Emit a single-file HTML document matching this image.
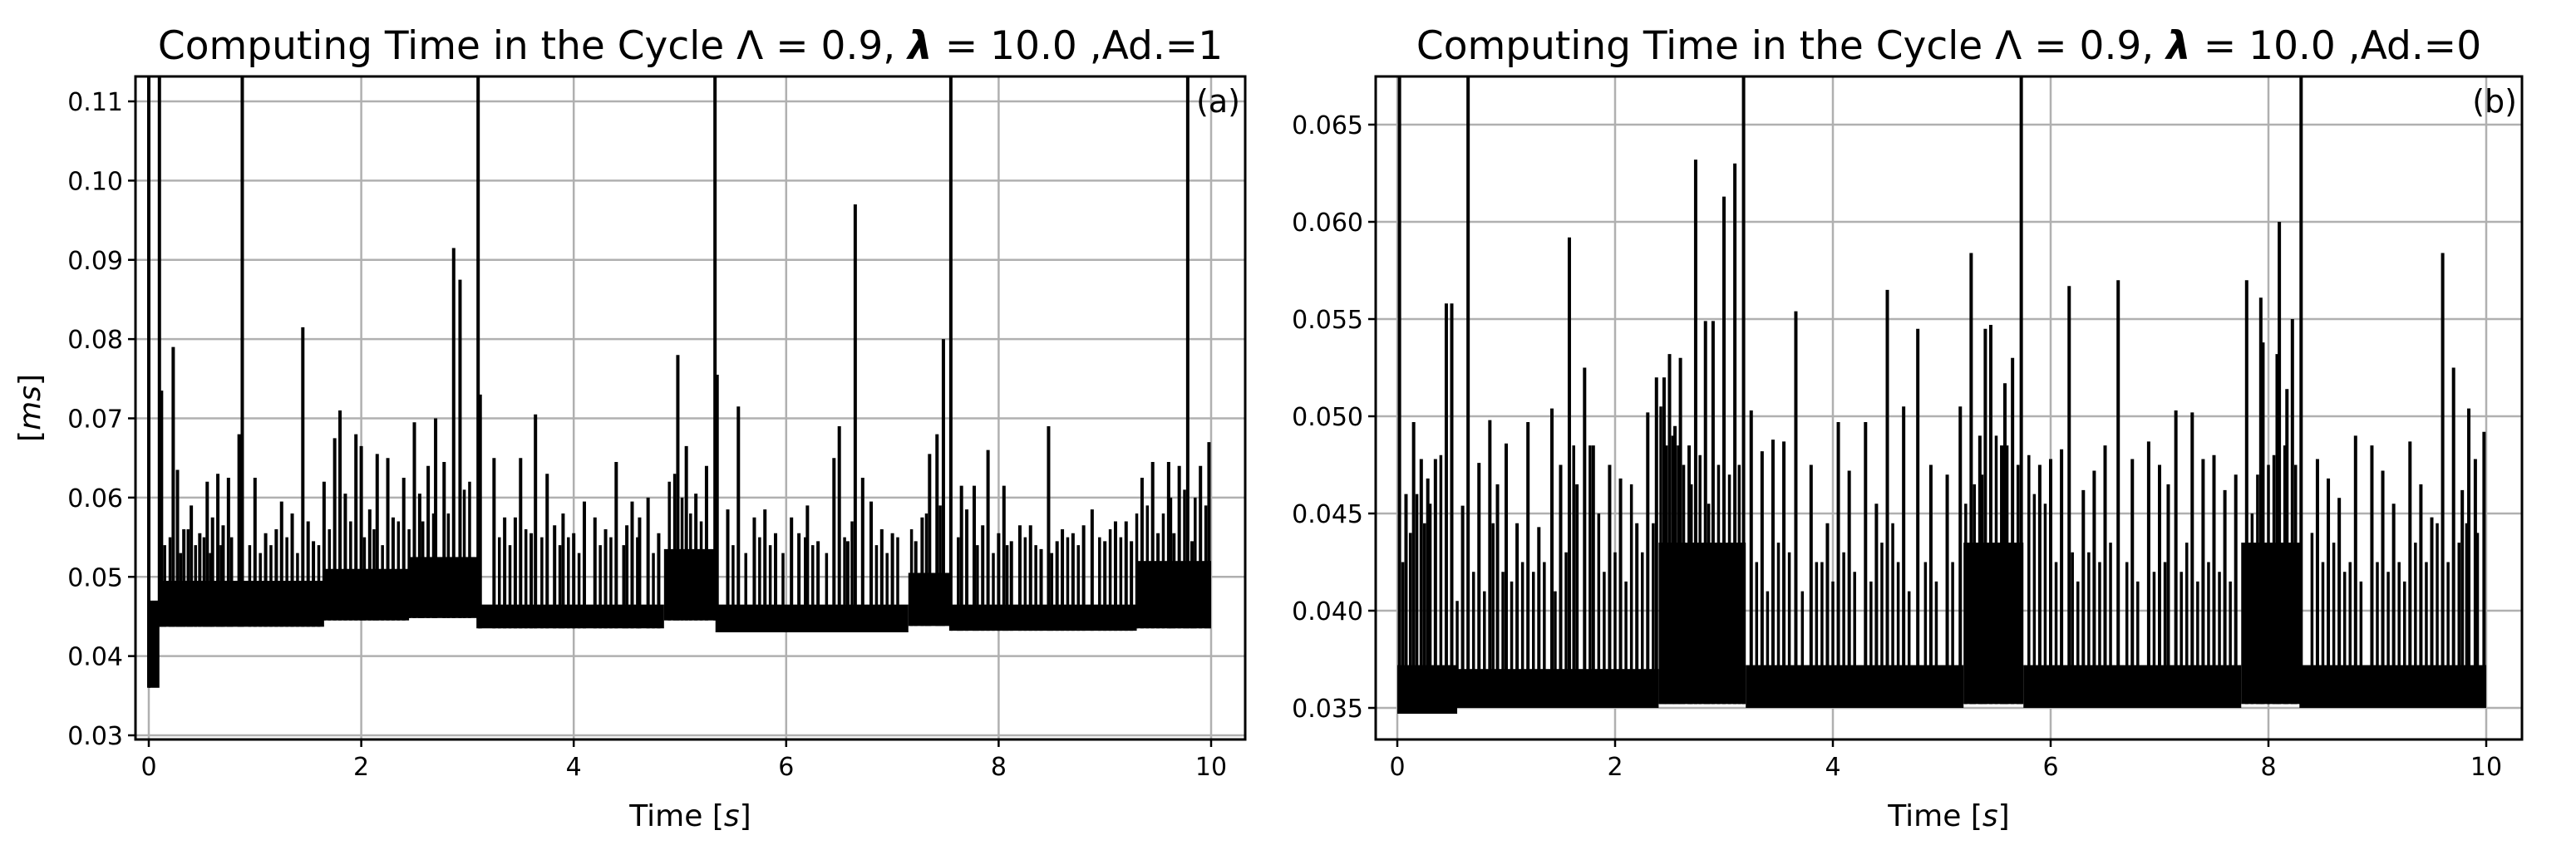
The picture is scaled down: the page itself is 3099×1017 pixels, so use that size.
<!DOCTYPE html>
<html><head><meta charset="utf-8"><style>
html,body{margin:0;padding:0;background:#fff;width:3099px;height:1017px;overflow:hidden}
svg{display:block}
text{font-family:"DejaVu Sans","Liberation Sans",sans-serif;fill:#000}
</style></head><body>
<svg id="chart" width="3099" height="1017" viewBox="0 0 3099 1017" xmlns="http://www.w3.org/2000/svg"></svg>
<script>
// ---------- Panel (a) data ----------
const aBandStart = [0, 0.1, 1.65, 2.45, 3.1, 4.85, 5.35, 7.15, 7.55, 9.3];
const aBandEnd   = [0.1, 1.65, 2.45, 3.1, 4.85, 5.35, 7.15, 7.55, 9.3, 10];
const aBandLow   = [0.036, 0.0437, 0.0445, 0.0448, 0.0435, 0.0445, 0.043, 0.0438, 0.0432, 0.0435];
const aBandHigh  = [0.047, 0.0495, 0.051, 0.0525, 0.0465, 0.0535, 0.0465, 0.0505, 0.0465, 0.052];
const aSpikeT = [0.0,0.1,0.88,3.1,5.33,7.55,9.78,0.23,1.45,2.87,2.93,6.65,4.98,7.48,3.12,5.35,0.12,5.55,2.7,3.64,1.8,6.5,8.47,2.5,9.98,0.85,1.75,0.27,0.55,0.65,0.75,1.0,1.25,1.65,1.95,2.0,2.15,2.25,2.4,2.63,3.25,3.5,3.75,4.4,5.06,5.25,6.45,6.72,7.35,7.42,7.65,7.77,7.9,8.05,8.88,9.35,9.45,9.6,9.7,9.9,4.7,4.55,6.2,6.9,8.2,0.4,1.5,3.9,4.1,5.8,6.05,8.6,9.1,9.2,0.33,0.48,0.6,0.7,1.1,1.2,1.35,1.55,1.85,2.08,2.3,2.55,2.78,3.35,3.45,3.6,3.82,4.0,4.2,4.3,4.5,4.62,4.8,5.15,5.45,5.7,5.9,6.12,6.3,6.58,6.8,7.0,7.22,7.28,7.7,7.85,8.0,8.12,8.3,8.4,8.55,8.7,8.8,9.0,9.25,9.5,9.65,9.82];
const aSpikeV = [0.2,0.2,0.2,0.2,0.2,0.2,0.2,0.079,0.0815,0.0915,0.0875,0.097,0.078,0.080,0.073,0.0755,0.0735,0.0715,0.070,0.0705,0.071,0.069,0.069,0.0695,0.067,0.068,0.0675,0.0635,0.062,0.063,0.0625,0.0625,0.0595,0.062,0.068,0.0665,0.0655,0.065,0.0625,0.064,0.065,0.065,0.063,0.0645,0.0665,0.064,0.065,0.0625,0.0655,0.068,0.0615,0.0615,0.066,0.0615,0.0585,0.0625,0.0645,0.0645,0.064,0.064,0.060,0.0595,0.059,0.056,0.0565,0.059,0.057,0.058,0.0595,0.0585,0.0575,0.056,0.057,0.057,0.056,0.0555,0.0575,0.0565,0.0555,0.056,0.058,0.0545,0.0605,0.0585,0.0575,0.0605,0.0645,0.0575,0.0575,0.0555,0.0565,0.0555,0.0575,0.056,0.0565,0.0575,0.0555,0.0605,0.0585,0.0575,0.0555,0.0555,0.0545,0.0545,0.0595,0.0555,0.0545,0.0575,0.0585,0.0565,0.0555,0.0545,0.0565,0.0535,0.0545,0.0555,0.0565,0.0545,0.0545,0.0555,0.0555,0.0545,0.0575];
const aMinorT = [0.15,0.2,0.3,0.37,0.44,0.52,0.58,0.68,0.78,0.95,1.05,1.15,1.3,1.4,1.6,1.7,1.9,2.03,2.12,2.2,2.35,2.45,2.58,2.68,2.82,2.97,3.02,3.3,3.4,3.55,3.7,3.87,3.95,4.05,4.25,4.35,4.47,4.6,4.75,4.9,4.95,5.02,5.1,5.2,5.5,5.62,5.75,5.85,5.97,6.18,6.25,6.38,6.55,6.62,6.85,6.95,7.05,7.18,7.32,7.45,7.62,7.8,7.95,8.08,8.25,8.35,8.5,8.65,8.75,8.95,9.05,9.15,9.3,9.4,9.55,9.62,9.75,9.85,9.95];
const aMinorV = [0.054,0.055,0.053,0.056,0.054,0.055,0.053,0.054,0.055,0.054,0.053,0.054,0.055,0.053,0.054,0.056,0.057,0.055,0.056,0.054,0.057,0.056,0.057,0.058,0.058,0.061,0.062,0.055,0.054,0.056,0.055,0.054,0.055,0.053,0.054,0.055,0.054,0.055,0.053,0.062,0.063,0.060,0.058,0.057,0.054,0.053,0.055,0.054,0.053,0.055,0.054,0.053,0.055,0.057,0.054,0.053,0.055,0.056,0.058,0.059,0.055,0.054,0.053,0.054,0.055,0.054,0.053,0.055,0.054,0.055,0.056,0.055,0.058,0.059,0.058,0.060,0.061,0.060,0.059];
const aYTicks = [0.03,0.04,0.05,0.06,0.07,0.08,0.09,0.10,0.11];
const aYLabels = ["0.03","0.04","0.05","0.06","0.07","0.08","0.09","0.10","0.11"];
// ---------- Panel (b) data ----------
const bBandStart = [0, 0.55, 2.4, 3.2, 5.2, 5.75, 7.75, 8.3];
const bBandEnd   = [0.55, 2.4, 3.2, 5.2, 5.75, 7.75, 8.3, 10];
const bBandLow   = [0.0347, 0.035, 0.0352, 0.035, 0.0352, 0.035, 0.0352, 0.035];
const bBandHigh  = [0.0372, 0.037, 0.0435, 0.0372, 0.0435, 0.0372, 0.0435, 0.0372];
const bSpikeT = [0.02,0.65,3.18,5.73,8.3,0.45,0.5,0.15,1.58,1.72,2.74,2.83,2.9,3.0,3.1,3.66,4.5,4.78,5.27,5.4,5.45,6.17,6.62,7.8,7.93,8.1,8.22,8.17,9.6,9.7,9.84,9.98,2.5,2.6,2.38,2.45,3.25,0.85,1.2,1.42,1.8,2.3,4.3,5.17,5.58,5.65,6.1,7.15,7.3,7.5,8.8,9.3,7.95,8.08,4.05,4.65,3.55,6.5,6.9,0.35,0.28,1.0,0.3,0.6,0.08,0.22,0.75,0.92,1.1,1.3,1.5,1.65,1.95,2.05,2.2,2.55,2.68,3.35,3.45,3.8,3.95,4.15,4.4,4.9,5.05,5.35,5.55,5.9,6.0,6.3,6.4,6.75,7.0,7.08,7.4,7.6,7.7,8.45,8.55,8.65,8.95,9.05,9.15,9.4,9.5,9.78,9.9];
const bSpikeV = [0.1,0.1,0.1,0.1,0.1,0.0558,0.0558,0.0497,0.0592,0.0525,0.0632,0.0549,0.0549,0.0613,0.0630,0.0554,0.0565,0.0545,0.0584,0.0545,0.0547,0.0567,0.0570,0.0570,0.0561,0.0600,0.0550,0.0514,0.0584,0.0525,0.0504,0.0492,0.0532,0.053,0.0520,0.0520,0.0503,0.0498,0.0497,0.0504,0.0485,0.0502,0.0497,0.0505,0.0517,0.053,0.0483,0.0503,0.0502,0.048,0.0490,0.0487,0.0538,0.0532,0.0497,0.0505,0.0487,0.0485,0.0487,0.0478,0.0468,0.0486,0.0455,0.0454,0.046,0.0478,0.0476,0.0465,0.0445,0.0443,0.0475,0.0465,0.0475,0.0468,0.0445,0.0495,0.0485,0.0482,0.0488,0.0475,0.0445,0.0472,0.0455,0.0475,0.047,0.049,0.0485,0.0475,0.0478,0.0462,0.0472,0.0478,0.0475,0.0465,0.0478,0.0462,0.047,0.0478,0.0468,0.0458,0.0485,0.0472,0.0455,0.0465,0.0448,0.0462,0.0478,0.0472];
const bMinorT = [0.05,0.12,0.18,0.25,0.4,0.55,0.7,0.8,0.88,0.97,1.05,1.15,1.25,1.35,1.45,1.55,1.62,1.77,1.85,1.9,2.0,2.1,2.15,2.25,2.35,2.42,2.47,2.53,2.58,2.63,2.7,2.78,2.86,2.95,3.05,3.14,3.3,3.4,3.5,3.6,3.72,3.85,3.9,4.0,4.1,4.2,4.35,4.45,4.55,4.6,4.7,4.85,4.95,5.1,5.22,5.3,5.37,5.5,5.6,5.7,5.8,5.85,5.95,6.05,6.2,6.25,6.35,6.45,6.55,6.7,6.8,6.95,7.05,7.2,7.25,7.35,7.45,7.55,7.65,7.85,7.9,8.0,8.05,8.15,8.25,8.4,8.5,8.6,8.7,8.75,8.85,9.0,9.1,9.2,9.25,9.35,9.45,9.55,9.65,9.75,9.82,9.92];
const bMinorV = [0.0425,0.044,0.046,0.0445,0.048,0.0405,0.042,0.041,0.0445,0.042,0.0415,0.0425,0.042,0.0425,0.041,0.043,0.0485,0.0485,0.045,0.042,0.043,0.0415,0.0465,0.043,0.0445,0.0505,0.0485,0.049,0.0485,0.0475,0.0465,0.048,0.0455,0.0475,0.047,0.0475,0.0425,0.041,0.0435,0.043,0.041,0.0425,0.0425,0.0415,0.043,0.042,0.0415,0.0435,0.0445,0.0425,0.041,0.0425,0.0415,0.0425,0.0455,0.0465,0.047,0.049,0.0485,0.0475,0.048,0.046,0.0455,0.0425,0.043,0.0415,0.043,0.0425,0.0435,0.0425,0.0415,0.042,0.0425,0.042,0.0435,0.0415,0.0425,0.042,0.0415,0.045,0.047,0.0475,0.048,0.0485,0.0475,0.044,0.0425,0.0435,0.042,0.0425,0.0415,0.0425,0.042,0.0425,0.0415,0.0435,0.0425,0.0445,0.0425,0.0435,0.0445,0.044];
const bYTicks = [0.035,0.040,0.045,0.050,0.055,0.060,0.065];
const bYLabels = ["0.035","0.040","0.045","0.050","0.055","0.060","0.065"];
const xTicks = [0,2,4,6,8,10];
const xLabels = ["0","2","4","6","8","10"];

const NS = "http://www.w3.org/2000/svg";
const svg = document.getElementById('chart');
function mk(tag, attrs, parent, text){
  const e = document.createElementNS(NS, tag);
  for (const k in attrs) e.setAttribute(k, attrs[k]);
  if (text !== undefined) e.textContent = text;
  (parent || svg).appendChild(e);
  return e;
}

function panel(cfg){
  const g = mk('g', {});
  
  
  const L=cfg.left, R=cfg.right, T=92, B=890;
  const xs = t => cfg.x0 + (t-0)*(cfg.x10-cfg.x0)/10;
  const ys = v => cfg.yA + (v-cfg.vA)*(cfg.yB-cfg.yA)/(cfg.vB-cfg.vA);
  const clip = mk('clipPath', {id: cfg.id+'-clip'}, g);
  mk('rect', {x:L, y:T, width:R-L, height:B-T}, clip);
  const grid = mk('g', {stroke:'#b0b0b0','stroke-width':2.5}, g);
  
  
  xTicks.forEach(t => mk('line', {x1:xs(t), x2:xs(t), y1:T, y2:B}, grid));
  cfg.yt.forEach(v => mk('line', {x1:L, x2:R, y1:ys(v), y2:ys(v)}, grid));
  const data = mk('g', {'clip-path':'url(#'+cfg.id+'-clip)'}, g);
  
  
  for (let i=0;i<cfg.bs.length;i++){
    const r = mk('rect', {x:xs(cfg.bs[i]), y:ys(cfg.bh[i]), width:Math.max(1,xs(cfg.be[i])-xs(cfg.bs[i])), height:ys(cfg.bl[i])-ys(cfg.bh[i]), fill:'#000'}, data);
    
    
  }
  function spikes(T_, V_, w){
    for (let i=0;i<T_.length;i++){
      const t = T_[i];
      let base = cfg.bl[0];
      for (let j=0;j<cfg.bs.length;j++) if (t>=cfg.bs[j] && t<=cfg.be[j]) base = cfg.bl[j];
      const l = mk('line', {x1:xs(t), x2:xs(t), y1:ys(base), y2:ys(V_[i]), stroke:'#000','stroke-width':w}, data);
      
      
    }
  }
  spikes(cfg.st, cfg.sv, 4);
  spikes(cfg.mt, cfg.mv, 3.5);
  const fr = mk('rect', {x:L, y:T, width:R-L, height:B-T, fill:'none', stroke:'#000','stroke-width':3}, g);
  
  
  const xa = mk('g', {}, g);
  
  
  xTicks.forEach((t,i) => {
    mk('line', {x1:xs(t), x2:xs(t), y1:B, y2:B+9, stroke:'#000','stroke-width':2.5}, xa);
    const tx = mk('text', {x:xs(t), y:B+43, 'font-size':30, 'text-anchor':'middle'}, xa, xLabels[i]);
    
    
  });
  const xl = mk('text', {x:(L+R)/2, y:994, 'font-size':36, 'text-anchor':'middle'}, xa);
  
  
  xl.innerHTML = 'Time [<tspan font-style="italic">s</tspan>]';
  const ya = mk('g', {}, g);
  
  
  cfg.yt.forEach((v,i) => {
    mk('line', {x1:L-9, x2:L, y1:ys(v), y2:ys(v), stroke:'#000','stroke-width':2.5}, ya);
    const tx = mk('text', {x:L-15, y:ys(v)+11, 'font-size':30, 'text-anchor':'end'}, ya, cfg.yl[i]);
    
    
  });
  const ti = mk('text', {x:(L+R)/2, y:71, 'font-size':47, 'text-anchor':'middle'}, g);
  
  
  ti.innerHTML = 'Computing Time in the Cycle Λ = 0.9, <tspan font-style="italic" font-weight="bold">λ</tspan> = 10.0 ,Ad.=' + cfg.ad;
  const lab = mk('text', {x:R-6, y:135, 'font-size':38, 'text-anchor':'end'}, g, cfg.tag);
  
  
}

panel({id:'pa', name:'panel-a', left:163, right:1498, x0:179, x10:1457, yA:122, vA:0.11, yB:885, vB:0.03,
  bs:aBandStart, be:aBandEnd, bl:aBandLow, bh:aBandHigh, st:aSpikeT, sv:aSpikeV, mt:aMinorT, mv:aMinorV, yt:aYTicks, yl:aYLabels, ad:'1', tag:'(a)'});
panel({id:'pb', name:'panel-b', left:1655, right:3034, x0:1681, x10:2991, yA:150, vA:0.065, yB:852, vB:0.035,
  bs:bBandStart, be:bBandEnd, bl:bBandLow, bh:bBandHigh, st:bSpikeT, sv:bSpikeV, mt:bMinorT, mv:bMinorV, yt:bYTicks, yl:bYLabels, ad:'0', tag:'(b)'});

const yl = mk('text', {x:0, y:0, 'font-size':36, 'text-anchor':'middle', transform:'translate(48,491) rotate(-90)'});


yl.innerHTML = '[<tspan font-style="italic">ms</tspan>]';
</script>
</body></html>
